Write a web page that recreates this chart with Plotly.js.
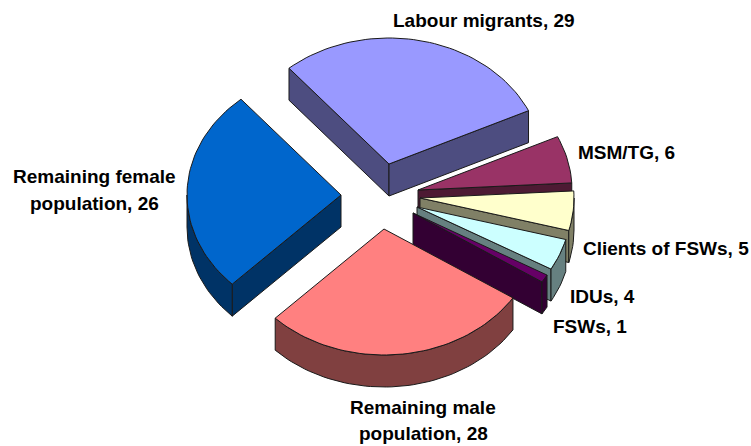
<!DOCTYPE html>
<html><head><meta charset="utf-8">
<script src="https://cdn.plot.ly/plotly-3.0.1.min.js"></script>
<style>html,body{margin:0;padding:0;background:#fff}#c{width:751px;height:446px}</style>
</head><body><div id="c"></div>
<script>
const categories = ["Labour migrants","MSM/TG","Clients of FSWs","IDUs","FSWs","Remaining male\npopulation","Remaining female\npopulation"];
const values = [29,6,5,4,1,28,26];
const topColors = ["#9999FF","#993366","#FFFFCC","#CCFFFF","#660066","#FF8080","#0066CC"];
const sideColors = ["#4D4D80","#4D1A33","#808066","#668080","#330033","#804040","#003366"];
// wedge apex of each exploded slice, in chart pixels
const apexX = [389,418,420,417,413,384,341];
const apexY = [164,190,198,207,213,229,195];
// label anchors: one centre per text line
const labelX = [[484],[626],[666],[602],[590],[423,423],[94,94]];
const labelY = [[20],[152],[248],[296],[326],[407,433],[176,203]];
const startAngle = -40.5, radiusX = 154, radiusY = 126, depth = 32;

const total = values.reduce((a,b)=>a+b,0);
const rad = d => d*Math.PI/180;
const ptAt = (i,a,dz=0) => [apexX[i]+radiusX*Math.sin(rad(a)), apexY[i]-radiusY*Math.cos(rad(a))+dz];
function arc(i,a0,a1,dz=0){
  const n = Math.max(2,Math.ceil(Math.abs(a1-a0)/2)), out=[];
  for(let k=0;k<=n;k++) out.push(ptAt(i,a0+(a1-a0)*k/n,dz));
  return out;
}
function shape(pts,fill){
  return {x:pts.map(p=>p[0]).concat(pts[0][0]), y:pts.map(p=>p[1]).concat(pts[0][1]),
    type:'scatter',mode:'lines',fill:'toself',fillcolor:fill,
    line:{color:'#1a1a1a',width:1},hoverinfo:'skip',showlegend:false};
}
const traces=[]; let ang=startAngle;
values.forEach((v,i)=>{
  const a0=ang, a1=ang+v/total*360; ang=a1;
  const c=[apexX[i],apexY[i]], cd=[apexX[i],apexY[i]+depth];
  // only cut faces that turn toward the viewer
  if(Math.sin(rad(a0))<0) traces.push(shape([c,ptAt(i,a0),ptAt(i,a0,depth),cd],sideColors[i]));
  if(Math.sin(rad(a1))>0) traces.push(shape([c,ptAt(i,a1),ptAt(i,a1,depth),cd],sideColors[i]));
  // outer rim where it faces the viewer
  const s=Math.max(a0,90), e=Math.min(a1,270);
  if(e>s) traces.push(shape(arc(i,s,e).concat(arc(i,e,s,depth)),sideColors[i]));
  traces.push(shape([c].concat(arc(i,a0,a1)),topColors[i]));
});
const annotations=[];
categories.forEach((name,i)=>{
  (name+", "+values[i]).split("\n").forEach((line,k)=>annotations.push({
    text:line,x:labelX[i][k],y:labelY[i][k],xref:'x',yref:'y',showarrow:false,
    xanchor:'center',yanchor:'middle',
    font:{family:'"Liberation Sans",Arial,sans-serif',size:19,weight:700,color:'#000'}
  }));
});
const hidden={visible:false,fixedrange:true};
Plotly.newPlot('c',traces,{
  width:751,height:446,margin:{l:0,r:0,t:0,b:0},
  paper_bgcolor:'#fff',plot_bgcolor:'#fff',showlegend:false,
  xaxis:Object.assign({range:[0,751]},hidden),
  yaxis:Object.assign({range:[446,0]},hidden),
  annotations
},{displayModeBar:false,staticPlot:true});
</script></body></html>
